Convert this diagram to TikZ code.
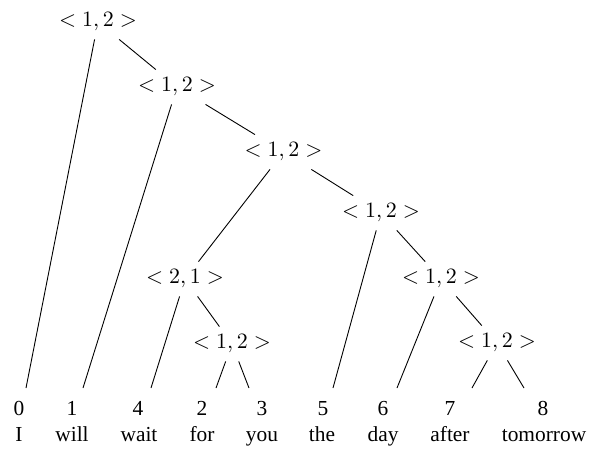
\documentclass[tikz,border=0pt]{standalone}
\usepackage[no-math]{fontspec}
\setmainfont{Liberation Serif}
\begin{document}
\begin{tikzpicture}[x=0.5pt,y=-0.5pt,
  inner/.style={inner sep=0pt,minimum height=17pt,anchor=center},
  leaf/.style={inner sep=0pt,anchor=base},
  every node/.style={font=\fontsize{10.7}{13}\selectfont},
  edge/.style={draw=black,line width=0.45pt}]
\useasboundingbox (0,0) rectangle (590,450);
% internal nodes
\node[inner] (r)  at (98,22)    {$<1,2>$};
\node[inner] (n2) at (177,87)   {$<1,2>$};
\node[inner] (n3) at (283.5,152) {$<1,2>$};
\node[inner] (n4) at (381,213)  {$<1,2>$};
\node[inner] (n5) at (441,279)  {$<1,2>$};
\node[inner] (n6) at (497,343)  {$<1,2>$};
\node[inner] (m)  at (185,279)  {$<2,1>$};
\node[inner] (n8) at (232,344)  {$<1,2>$};
% leaves: digits
\node[leaf] (d0) at (19,415)  {0};
\node[leaf] (d1) at (72,415)  {1};
\node[leaf] (d4) at (138,415) {4};
\node[leaf] (d2) at (202,415) {2};
\node[leaf] (d3) at (262,415) {3};
\node[leaf] (d5) at (323,415) {5};
\node[leaf] (d6) at (383,415) {6};
\node[leaf] (d7) at (450,415) {7};
\node[leaf] (d8) at (543,415) {8};
% leaves: words
\node[leaf] (w0) at (19,441)  {I};
\node[leaf] (w1) at (72,441)  {will};
\node[leaf] (w4) at (139,441) {wait};
\node[leaf] (w2) at (202,441) {for};
\node[leaf] (w3) at (262,441) {you};
\node[leaf] (w5) at (322,441) {the};
\node[leaf] (w6) at (383,441) {day};
\node[leaf] (w7) at (450,441) {after};
\node[leaf] (w8) at (544,441) {tomorrow};
% leaf edge ends
\coordinate (e0) at (26,388);
\coordinate (e1) at (83,388);
\coordinate (e4) at (151,388);
\coordinate (e2) at (216,388);
\coordinate (e3) at (249,388);
\coordinate (e5) at (333,388);
\coordinate (e6) at (397,388);
\coordinate (e7) at (472,388);
\coordinate (e8) at (524,388);
% edges
\draw[edge] (r) -- (e0);
\draw[edge] (r) -- (n2);
\draw[edge] (n2) -- (e1);
\draw[edge] (n2) -- (n3);
\draw[edge] (n3) -- (m);
\draw[edge] (n3) -- (n4);
\draw[edge] (m) -- (e4);
\draw[edge] (m) -- (n8);
\draw[edge] (n8) -- (e2);
\draw[edge] (n8) -- (e3);
\draw[edge] (n4) -- (e5);
\draw[edge] (n4) -- (n5);
\draw[edge] (n5) -- (e6);
\draw[edge] (n5) -- (n6);
\draw[edge] (n6) -- (e7);
\draw[edge] (n6) -- (e8);
\end{tikzpicture}
\end{document}
